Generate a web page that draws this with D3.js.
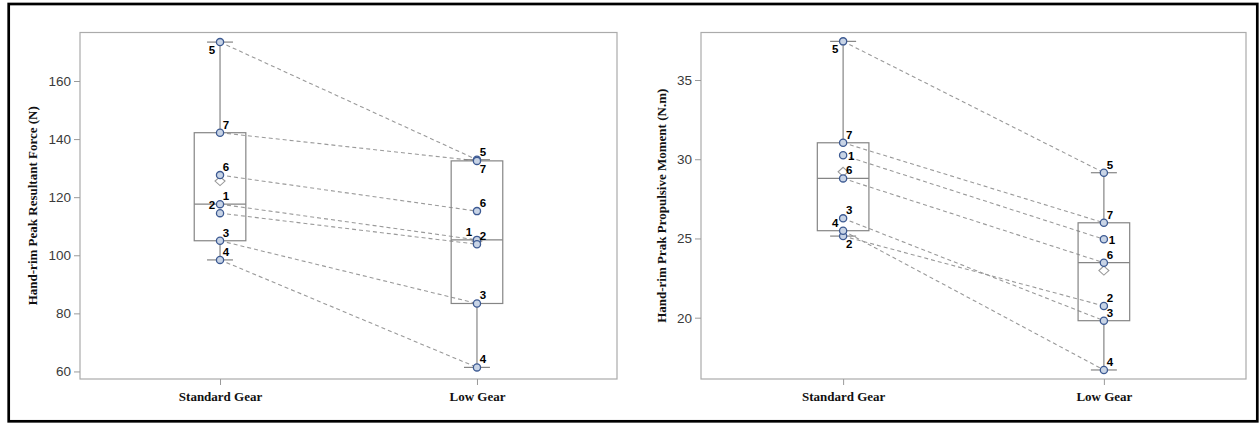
<!DOCTYPE html>
<html><head><meta charset="utf-8">
<script src="https://cdn.jsdelivr.net/npm/d3@7"></script>
<style>body{margin:0;background:#fff}svg{display:block}</style>
</head><body>
<svg id="chart" width="1259" height="423"></svg>
<script>
const categories = ["Standard Gear", "Low Gear"];
const subjects = ["1", "2", "3", "4", "5", "6", "7"];
const forceStandard = [117.6, 114.5, 105.0, 98.4, 173.4, 127.6, 142.2];
const forceLow = [105.3, 103.8, 83.4, 61.4, 132.9, 115.2, 132.5];
const momentStandard = [30.25, 25.15, 26.27, 25.49, 37.44, 28.79, 31.04];
const momentLow = [24.95, 20.74, 19.81, 16.7, 29.15, 23.47, 25.99];
const forceTicks = [60, 80, 100, 120, 140, 160];
const momentTicks = [20, 25, 30, 35];
const forceTitle = "Hand-rim Peak Resultant Force (N)";
const momentTitle = "Hand-rim Prak Propulsive Moment (N.m)";

// label placement (style only)
const forceStdLabelPos = ["tr","tl","tr","tr","bl","tr","tr"];
const forceLowLabelPos = ["tl","tr","tr","tr","tr","tr","br"];
const momentStdLabelPos = ["r","br","tr","tl","bl","tr","tr"];
const momentLowLabelPos = ["r","tr","tr","tr","tr","tr","tr"];

const svg = d3.select("#chart");
svg.append("rect").attr("x", 8.7).attr("y", 4).attr("width", 1248.6).attr("height", 417.3)
  .attr("fill", "none").attr("stroke", "#000").attr("stroke-width", 2.7);

function quant(sorted, p) {
  const n = sorted.length, np = n * p, j = Math.floor(np), g = np - j;
  if (g === 0) return (sorted[j - 1] + sorted[j]) / 2;
  return sorted[j];
}

const offs = { tr: [6, -8], tl: [-8, -8], br: [6, 8], bl: [-8, 8], r: [8, 1] };

function panel(opt) {
  const g = svg.append("g");
  const x = d3.scalePoint().domain(categories).range([opt.x0, opt.x1]).padding(0.545);
  const y = d3.scaleLinear().domain(opt.domain).range([opt.y1, opt.y0]);

  g.append("rect").attr("x", opt.x0).attr("y", opt.y0)
    .attr("width", opt.x1 - opt.x0).attr("height", opt.y1 - opt.y0)
    .attr("fill", "none").attr("stroke", "#ababab").attr("stroke-width", 1.2);

  const ya = d3.axisLeft(y).tickValues(opt.ticks).tickSize(6).tickPadding(3).tickFormat(d3.format("d"));
  const yg = g.append("g").attr("transform", `translate(${opt.x0},0)`).call(ya);
  yg.select(".domain").remove();
  yg.selectAll(".tick line").attr("stroke", "#9a9a9a");
  yg.selectAll(".tick text").attr("fill", "#3a3a3a")
    .style("font-family", "'Liberation Sans', Arial, sans-serif").style("font-size", "13.5px");

  const xa = d3.axisBottom(x).tickSize(6).tickPadding(6);
  const xg = g.append("g").attr("transform", `translate(0,${opt.y1})`).call(xa);
  xg.select(".domain").remove();
  xg.selectAll(".tick line").attr("stroke", "#9a9a9a");
  xg.selectAll(".tick text").attr("fill", "#111").attr("dy", "0")
    .attr("y", 22)
    .style("font-family", "'Liberation Serif', 'Times New Roman', serif")
    .style("font-size", "13px").style("font-weight", "bold");

  g.append("text")
    .attr("transform", `translate(${opt.titleX},${(opt.y0 + opt.y1) / 2}) rotate(-90)`)
    .attr("text-anchor", "middle").attr("dominant-baseline", "central")
    .style("font-family", "'Liberation Serif', 'Times New Roman', serif")
    .style("font-size", "13px").style("font-weight", "bold").attr("fill", "#111")
    .text(opt.title);

  const series = [opt.std, opt.low];
  const xs = categories.map(c => x(c));

  g.selectAll("line.pair").data(subjects).enter().append("line")
    .attr("x1", xs[0]).attr("x2", xs[1])
    .attr("y1", (d, i) => y(opt.std[i])).attr("y2", (d, i) => y(opt.low[i]))
    .attr("stroke", "#9a9a9a").attr("stroke-width", 1.1).attr("stroke-dasharray", "4,3");

  series.forEach((vals, k) => {
    const s = vals.slice().sort(d3.ascending);
    const q1 = quant(s, 0.25), med = quant(s, 0.5), q3 = quant(s, 0.75);
    const mn = s[0], mx = s[s.length - 1], mean = d3.mean(vals);
    const cx = xs[k], hw = 25.8, cw = 13;
    const bg = g.append("g").attr("stroke", "#858585").attr("stroke-width", 1.2).attr("fill", "none");
    bg.append("line").attr("x1", cx).attr("x2", cx).attr("y1", y(q3)).attr("y2", y(mx));
    bg.append("line").attr("x1", cx).attr("x2", cx).attr("y1", y(q1)).attr("y2", y(mn));
    bg.append("line").attr("x1", cx - cw).attr("x2", cx + cw).attr("y1", y(mx)).attr("y2", y(mx));
    bg.append("line").attr("x1", cx - cw).attr("x2", cx + cw).attr("y1", y(mn)).attr("y2", y(mn));
    bg.append("rect").attr("x", cx - hw).attr("y", y(q3)).attr("width", 2 * hw).attr("height", y(q1) - y(q3));
    bg.append("line").attr("x1", cx - hw).attr("x2", cx + hw).attr("y1", y(med)).attr("y2", y(med));
    const my = y(mean);
    g.append("path").attr("d", `M${cx},${my - 4.5}L${cx + 5},${my}L${cx},${my + 4.5}L${cx - 5},${my}Z`)
      .attr("fill", "#fff").attr("stroke", "#999").attr("stroke-width", 1.1);
  });

  series.forEach((vals, k) => {
    const pos = k === 0 ? opt.stdPos : opt.lowPos;
    g.selectAll(null).data(vals).enter().append("circle")
      .attr("cx", xs[k]).attr("cy", d => y(d)).attr("r", 3.6)
      .attr("fill", "#c8d4e6").attr("stroke", "#3d5a92").attr("stroke-width", 1.3);
    g.selectAll(null).data(vals).enter().append("text")
      .attr("x", (d, i) => xs[k] + offs[pos[i]][0])
      .attr("y", (d, i) => y(d) + offs[pos[i]][1])
      .attr("text-anchor", "middle").attr("dominant-baseline", "central")
      .style("font-family", "'Liberation Sans', Arial, sans-serif")
      .style("font-size", "11.5px").style("font-weight", "bold").attr("fill", "#000")
      .text((d, i) => subjects[i]);
  });
}

panel({ x0: 80, x1: 617, y0: 32.5, y1: 379, domain: [57.4, 176.7], ticks: forceTicks,
  std: forceStandard, low: forceLow, stdPos: forceStdLabelPos, lowPos: forceLowLabelPos,
  title: forceTitle, titleX: 32 });
panel({ x0: 701, x1: 1246, y0: 32.5, y1: 379, domain: [16.13, 38.0], ticks: momentTicks,
  std: momentStandard, low: momentLow, stdPos: momentStdLabelPos, lowPos: momentLowLabelPos,
  title: momentTitle, titleX: 661 });
</script>
</body></html>
